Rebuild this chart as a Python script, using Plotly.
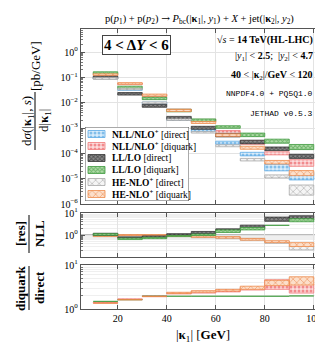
import plotly.graph_objects as go

# bins in |k1| [GeV]
bin_lo = [10, 20, 30, 40, 50, 60, 70, 80, 90]
bin_hi = [20, 30, 40, 50, 60, 70, 80, 90, 100]

# main panel, d sigma / d|k1| [pb/GeV], uncertainty bands (low, high)
nll_dir_lo = [0.0891, 0.0309, 0.00871, 0.00204, 7.08e-4, 2.29e-4, 7.94e-5, 2.04e-5, 8.91e-6]
nll_dir_hi = [0.102, 0.0355, 0.0105, 0.00245, 8.91e-4, 3.02e-4, 1.10e-4, 3.72e-5, 1.78e-5]
nll_diq_lo = [0.126, 0.0513, 0.0174, 0.00468, 1.74e-3, 6.03e-4, 2.29e-4, 8.71e-5, 3.09e-5]
nll_diq_hi = [0.145, 0.0589, 0.0209, 0.00562, 2.19e-3, 7.94e-4, 3.16e-4, 1.15e-4, 5.62e-5]
ll_dir_lo = [0.0871, 0.0200, 0.00661, 0.00209, 8.91e-4, 4.47e-4, 2.40e-4, 1.29e-4, 6.31e-5]
ll_dir_hi = [0.115, 0.0251, 0.00871, 0.00288, 1.17e-3, 6.17e-4, 3.31e-4, 1.78e-4, 9.12e-5]
ll_diq_lo = [0.132, 0.0355, 0.0132, 0.00437, 1.82e-3, 9.77e-4, 4.57e-4, 2.51e-4, 1.41e-4]
ll_diq_hi = [0.166, 0.0447, 0.0166, 0.00550, 2.29e-3, 1.23e-3, 6.31e-4, 3.63e-4, 2.24e-4]
he_dir_lo = [0.0851, 0.0324, 0.00933, 0.00200, 6.31e-4, 1.82e-4, 5.01e-5, 1.07e-5, 2.24e-6]
he_dir_hi = [0.0977, 0.0372, 0.0107, 0.00229, 7.24e-4, 2.19e-4, 6.31e-5, 1.41e-5, 5.62e-6]
he_diq_lo = [0.120, 0.0537, 0.0182, 0.00447, 1.51e-3, 4.68e-4, 1.45e-4, 3.80e-5, 1.32e-5]
he_diq_hi = [0.138, 0.0617, 0.0219, 0.00537, 1.82e-3, 5.89e-4, 1.91e-4, 5.25e-5, 2.09e-5]

# ratio panel [res]/NLL
r_ll_dir_lo = [0.95, 0.72, 0.78, 1.0, 1.15, 1.5, 2.0, 4.2, 5.0]
r_ll_dir_hi = [1.2, 0.82, 0.9, 1.15, 1.45, 1.9, 2.8, 6.5, 7.5]
r_ll_diq_lo = [0.98, 0.62, 0.68, 0.85, 0.95, 1.3, 1.7, 2.75, 4.0]
r_ll_diq_hi = [1.15, 0.72, 0.78, 0.95, 1.1, 1.7, 2.2, 2.9, 5.5]
r_he_dir_lo = [0.85, 0.9, 0.9, 0.85, 0.75, 0.68, 0.58, 0.42, 0.21]
r_he_dir_hi = [0.95, 1.0, 1.0, 0.95, 0.88, 0.8, 0.7, 0.52, 0.32]
r_he_diq_lo = [0.85, 0.95, 0.95, 0.85, 0.78, 0.72, 0.58, 0.45, 0.3]
r_he_diq_hi = [0.95, 1.05, 1.05, 0.95, 0.9, 0.85, 0.7, 0.55, 0.45]

# ratio panel diquark/direct
q_nll_lo = [1.36, 1.62, 1.90, 2.2, 2.3, 2.45, 2.7, 2.8, 2.3]
q_nll_hi = [1.42, 1.70, 2.0, 2.35, 2.55, 2.75, 3.1, 4.6, 3.7]
q_ll_lo = [1.49, 1.63, 1.95, 1.95, 1.95, 1.95, 1.95, 1.95, 1.98]
q_ll_hi = [1.53, 1.68, 2.0, 2.0, 2.0, 2.0, 2.0, 2.0, 2.03]
q_he_lo = [1.36, 1.63, 1.93, 2.25, 2.4, 2.55, 2.8, 3.4, 3.5]
q_he_hi = [1.40, 1.68, 2.0, 2.4, 2.6, 2.8, 3.3, 4.5, 5.4]

x_ticks = [20, 40, 60, 80, 100]
main_ticks = [1, 0.1, 0.01, 1e-3, 1e-4, 1e-5, 1e-6]
main_ticktext = ["10<sup>0</sup>", "10<sup>−1</sup>", "10<sup>−2</sup>", "10<sup>−3</sup>",
                 "10<sup>−4</sup>", "10<sup>−5</sup>", "10<sup>−6</sup>"]
ratio_ticks = [1, 10]
ratio_ticktext = ["10<sup>0</sup>", "10<sup>1</sup>"]

legend_keys = ["nll_dir", "nll_diq", "ll_dir", "ll_diq", "he_dir", "he_diq"]
legend_names = ["<b>NLL/NLO<sup>+</sup></b> [direct]", "<b>NLL/NLO<sup>+</sup></b> [diquark]",
                "<b>LL/LO</b> [direct]", "<b>LL/LO</b> [diquark]",
                "<b>HE-NLO<sup>+</sup></b> [direct]", "<b>HE-NLO<sup>+</sup></b> [diquark]"]

SERIF = "Liberation Serif"
MONO = "Liberation Mono"

STYLES = {
    "nll_dir": dict(line="#5aa9e6", fg="#2b8fd8", bg="#d9ecfa", shape=".", size=4, sol=0.45),
    "nll_diq": dict(line="#f07a7a", fg="#e8383d", bg="#fbdcdc", shape=".", size=4, sol=0.45),
    "ll_dir": dict(line="#333333", fg="#1a1a1a", bg="#8c8c8c", shape="x", size=3, sol=0.55),
    "ll_diq": dict(line="#3f9a3f", fg="#2e8b2e", bg="#b0dca8", shape="x", size=3, sol=0.55),
    "he_dir": dict(line="#a8a8a8", fg="#8c8c8c", bg="#f5f5f5", shape="x", size=5, sol=0.3),
    "he_diq": dict(line="#ee8a4a", fg="#e8702a", bg="#fcdfca", shape="x", size=5, sol=0.3),
}


def rects(x0s, x1s, y0s, y1s):
    xs, ys = [], []
    for x0, x1, y0, y1 in zip(x0s, x1s, y0s, y1s):
        xs += [x0, x1, x1, x0, x0, None]
        ys += [y0, y0, y1, y1, y0, None]
    return xs, ys


def band(low, high, key, axis):
    st = STYLES[key]
    xs, ys = rects(bin_lo, bin_hi, low, high)
    return go.Scatter(
        x=xs, y=ys, mode="lines", fill="toself",
        line=dict(color=st["line"], width=0.8),
        fillcolor=st["bg"],
        fillpattern=dict(shape=st["shape"], fgcolor=st["fg"], bgcolor=st["bg"],
                         size=st["size"], solidity=st["sol"]),
        xaxis="x" + axis, yaxis="y" + axis,
        showlegend=False, hoverinfo="skip",
    )


fig = go.Figure()

fig.add_trace(band(nll_dir_lo, nll_dir_hi, "nll_dir", ""))
fig.add_trace(band(nll_diq_lo, nll_diq_hi, "nll_diq", ""))
fig.add_trace(band(ll_dir_lo, ll_dir_hi, "ll_dir", ""))
fig.add_trace(band(ll_diq_lo, ll_diq_hi, "ll_diq", ""))
fig.add_trace(band(he_dir_lo, he_dir_hi, "he_dir", ""))
fig.add_trace(band(he_diq_lo, he_diq_hi, "he_diq", ""))

fig.add_trace(band(r_he_dir_lo, r_he_dir_hi, "he_dir", "2"))
fig.add_trace(band(r_he_diq_lo, r_he_diq_hi, "he_diq", "2"))
fig.add_trace(band(r_ll_dir_lo, r_ll_dir_hi, "ll_dir", "2"))
fig.add_trace(band(r_ll_diq_lo, r_ll_diq_hi, "ll_diq", "2"))

fig.add_trace(band(q_nll_lo, q_nll_hi, "nll_diq", "3"))
fig.add_trace(band(q_ll_lo, q_ll_hi, "ll_diq", "3"))
fig.add_trace(band(q_he_lo, q_he_hi, "he_diq", "3"))

L, R, T, B = 73, 5, 21, 42
W, H = 323, 343
PW, PH = W - L - R, H - T - B


def px(x):
    return (x - L) / PW


def py(y):
    return (H - B - y) / PH


# legend drawn in its own small box (pixel-like units, y downwards)
LEG_X0, LEG_X1, LEG_Y0, LEG_Y1 = 77, 181, 119, 193
box_x, box_y = rects([0], [LEG_X1 - LEG_X0], [0], [LEG_Y1 - LEG_Y0])
fig.add_trace(go.Scatter(x=box_x, y=box_y, mode="lines", fill="toself", fillcolor="white",
                         line=dict(color="#555555", width=1), xaxis="x4", yaxis="y4",
                         showlegend=False, hoverinfo="skip"))
for i, key in enumerate(legend_keys):
    st = STYLES[key]
    yc = 7 + 12 * i
    sx, sy = rects([3], [20], [yc - 3.5], [yc + 3.5])
    fig.add_trace(go.Scatter(
        x=sx, y=sy, mode="lines", fill="toself", fillcolor=st["bg"],
        line=dict(color=st["line"], width=0.8),
        fillpattern=dict(shape=st["shape"], fgcolor=st["fg"], bgcolor=st["bg"],
                         size=st["size"], solidity=st["sol"]),
        xaxis="x4", yaxis="y4", showlegend=False, hoverinfo="skip"))
    fig.add_annotation(x=25, y=yc, xref="x4", yref="y4", text=legend_names[i],
                       xanchor="left", yanchor="middle", showarrow=False,
                       font=dict(size=9.5))

frame = dict(showline=True, linecolor="#555555", linewidth=1.3, mirror="ticks",
             ticks="inside", ticklen=4, tickcolor="#555555",
             gridcolor="#e3e3e3", gridwidth=1, zeroline=False)

xcommon = dict(range=[5, 105], tickvals=x_ticks, **frame)
fig.update_layout(
    xaxis=dict(anchor="y", domain=[0, 1], showticklabels=False, **xcommon),
    xaxis2=dict(anchor="y2", domain=[0, 1], matches="x", showticklabels=False, **xcommon),
    xaxis3=dict(anchor="y3", domain=[0, 1], matches="x", **xcommon),
    xaxis4=dict(anchor="y4", domain=[px(LEG_X0), px(LEG_X1)], range=[0, LEG_X1 - LEG_X0],
                visible=False, fixedrange=True),
    yaxis4=dict(anchor="x4", domain=[py(LEG_Y1), py(LEG_Y0)], range=[LEG_Y1 - LEG_Y0, 0],
                visible=False, fixedrange=True),
)


def minor_vals(lo_exp, hi_exp):
    return [k * 10.0 ** e for e in range(lo_exp, hi_exp) for k in range(2, 10)]


fig.update_layout(
    yaxis=dict(type="log", range=[-6, 0.91], domain=[py(196), 1],
               tickvals=main_ticks, ticktext=main_ticktext,
               minor=dict(tickvals=minor_vals(-6, 1), ticks="inside", ticklen=2,
                          tickcolor="#777777", showgrid=False), **frame),
    yaxis2=dict(type="log", range=[-1, 1], domain=[py(249), py(205)],
                tickvals=ratio_ticks, ticktext=ratio_ticktext,
                minor=dict(tickvals=minor_vals(-1, 1), ticks="inside", ticklen=2,
                           tickcolor="#777777", showgrid=True, gridcolor="#efefef"), **frame),
    yaxis3=dict(type="log", range=[0, 1], domain=[0, py(257)],
                tickvals=ratio_ticks, ticktext=ratio_ticktext,
                minor=dict(tickvals=minor_vals(0, 1), ticks="inside", ticklen=2,
                           tickcolor="#777777", showgrid=True, gridcolor="#efefef"), **frame),
)

fig.add_shape(type="line", xref="x2 domain", yref="y2", x0=0, x1=1, y0=1, y1=1,
              line=dict(color="#777777", width=1), layer="below")

K = "<b>κ</b>"
ARROW = "<span style='font-family:DejaVu Serif'>→</span>"
ann = []
ann.append(dict(x=px(191), y=py(11), text="p(<i>p</i><sub>1</sub>) + p(<i>p</i><sub>2</sub>) "
                + ARROW + " <i>P</i><sub>bc</sub>(|" + K + "<sub>1</sub>|, <i>y</i><sub>1</sub>) + "
                "<i>X</i> + jet(|" + K + "<sub>2</sub>|, <i>y</i><sub>2</sub>)",
                font=dict(size=10.5)))
ann.append(dict(x=px(128), y=py(37), text="<b>4 &lt; Δ<i>Y</i> &lt; 6</b>",
                font=dict(size=15), bordercolor="#444444", borderwidth=1, borderpad=1,
                bgcolor="white"))
ann.append(dict(x=px(307), y=py(32), xanchor="right",
                text="√<i>s</i> = <b>14 TeV(HL-LHC)</b>", font=dict(size=10)))
ann.append(dict(x=px(307), y=py(49), xanchor="right",
                text="|<i>y</i><sub>1</sub>| &lt; <b>2.5</b>;  |<i>y</i><sub>2</sub>| &lt; <b>4.7</b>",
                font=dict(size=10)))
ann.append(dict(x=px(307), y=py(67), xanchor="right",
                text="<b>40</b> &lt; |" + K + "<sub>2</sub>|/<b>GeV</b> &lt; <b>120</b>",
                font=dict(size=10)))
ann.append(dict(x=px(307), y=py(86), xanchor="right", text="NNPDF4.0 + PQ5Q1.0",
                font=dict(size=8, family=MONO)))
ann.append(dict(x=px(307), y=py(105), xanchor="right", text="JETHAD v0.5.3",
                font=dict(size=8, family=MONO)))

# y-axis labels
ann.append(dict(x=px(19), y=py(113), text="d<i>σ</i>(|" + K + "<sub>1</sub>|, <i>s</i>)",
                textangle=-90, font=dict(size=13)))
ann.append(dict(x=px(36), y=py(113), text="d|" + K + "<sub>1</sub>|", textangle=-90,
                font=dict(size=13)))
ann.append(dict(x=px(28), y=py(58), text="[pb/GeV]", textangle=-90, font=dict(size=13)))
ann.append(dict(x=px(12), y=py(226), text="<b>[res]</b>", textangle=-90, font=dict(size=13)))
ann.append(dict(x=px(31), y=py(226), text="<b>NLL</b>", textangle=-90, font=dict(size=13)))
ann.append(dict(x=px(12), y=py(280), text="<b>diquark</b>", textangle=-90, font=dict(size=13)))
ann.append(dict(x=px(31), y=py(280), text="<b>direct</b>", textangle=-90, font=dict(size=13)))
ann.append(dict(x=px(195), y=py(327), text="|" + K + "<sub>1</sub>| [<b>GeV</b>]",
                font=dict(size=13)))

for a in ann:
    a.setdefault("xref", "paper")
    a.setdefault("yref", "paper")
    a.setdefault("xanchor", "center")
    a.setdefault("yanchor", "middle")
    a.setdefault("showarrow", False)
    fig.add_annotation(**a)

for x0, y0, y1 in [(27, 84, 142), (21, 207, 245), (21, 258, 302)]:
    fig.add_shape(type="line", xref="paper", yref="paper", x0=px(x0), x1=px(x0),
                  y0=py(y0), y1=py(y1), line=dict(color="black", width=1))

fig.update_layout(
    width=W, height=H,
    margin=dict(l=L, r=R, t=T, b=B),
    paper_bgcolor="white", plot_bgcolor="rgba(0,0,0,0)",
    font=dict(family=SERIF, size=10, color="black"),
    showlegend=False,
)

fig.write_html("out.html")
